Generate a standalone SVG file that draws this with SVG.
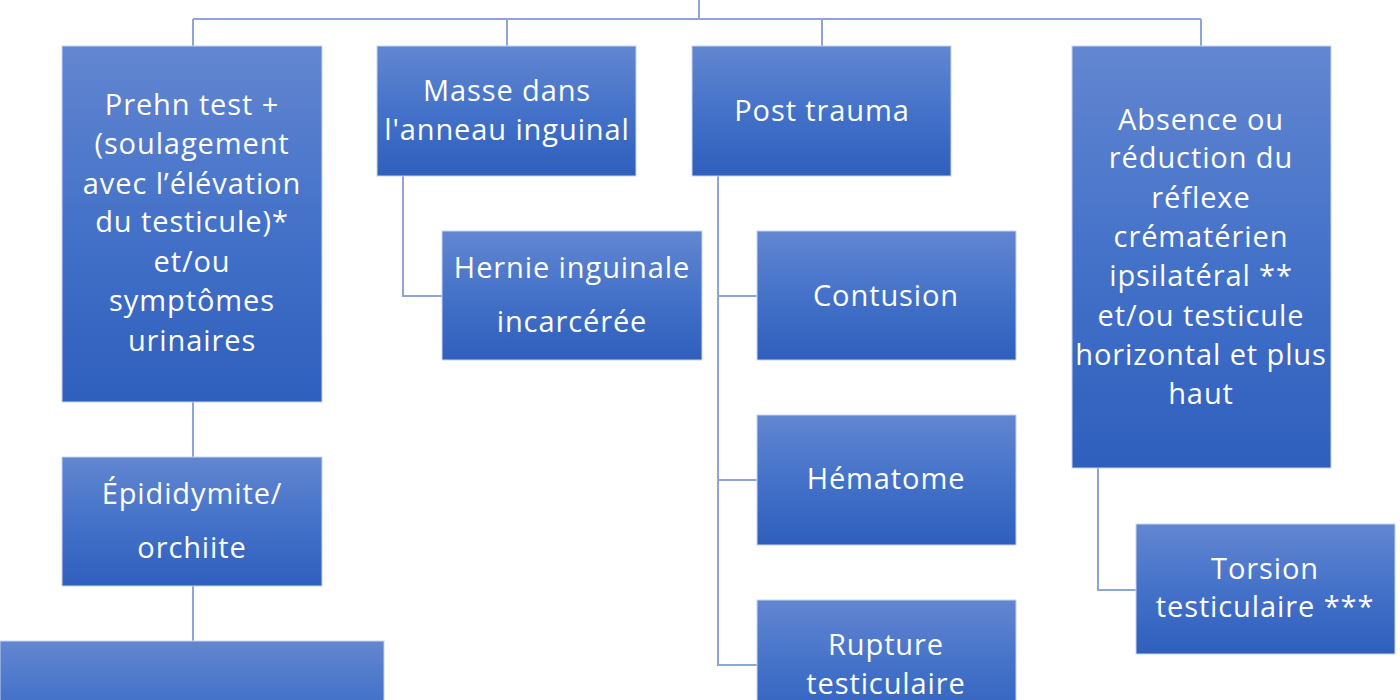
<svg xmlns="http://www.w3.org/2000/svg" width="1400" height="700" viewBox="0 0 1400 700">
<defs>
<linearGradient id="g" x1="0" y1="0" x2="0" y2="1">
<stop offset="0" stop-color="#6386d0"/>
<stop offset="0.5" stop-color="#4472c9"/>
<stop offset="1" stop-color="#2f5fbd"/>
</linearGradient>
<style>
.box{fill:url(#g);stroke:#c8d3ee;stroke-width:1}
.t{font-family:"Open Sans",Lato,sans-serif;font-size:29px;letter-spacing:0.9px;fill:#ffffff;text-anchor:middle}
.c{fill:none;stroke:#8ea5d9;stroke-width:2}
</style>
</defs>
<rect width="1400" height="700" fill="#ffffff"/>
<g id="connectors">
<path class="c" d="M699 0V19M193 19H1201M193 19V46M507 19V46M822 19V46M1201 19V46"/>
<path class="c" d="M403 176V296H442"/>
<path class="c" d="M718 176V665H757M718 296H757M718 480H757"/>
<path class="c" d="M1098 468V590H1136"/>
<path class="c" d="M193 402V457M193 586V641"/>
</g>
<g id="prehn">
<rect class="box" x="62" y="46" width="260" height="356"/>
<text class="t"><tspan x="192" y="115">Prehn test +</tspan><tspan x="192" y="154">(soulagement</tspan><tspan x="192" y="194">avec l’élévation</tspan><tspan x="192" y="232">du testicule)*</tspan><tspan x="192" y="272">et/ou</tspan><tspan x="192" y="311">symptômes</tspan><tspan x="192" y="351">urinaires</tspan></text>
</g>
<g id="masse">
<rect class="box" x="377" y="46" width="259" height="130"/>
<text class="t"><tspan x="507" y="101">Masse dans</tspan><tspan x="507" y="140">l'anneau inguinal</tspan></text>
</g>
<g id="post">
<rect class="box" x="692" y="46" width="259" height="130"/>
<text class="t" x="822" y="121">Post trauma</text>
</g>
<g id="absence">
<rect class="box" x="1072" y="46" width="259" height="422"/>
<text class="t"><tspan x="1201" y="130">Absence ou</tspan><tspan x="1201" y="168">réduction du</tspan><tspan x="1201" y="208">réflexe</tspan><tspan x="1201" y="247">crématérien</tspan><tspan x="1201" y="286">ipsilatéral **</tspan><tspan x="1201" y="326">et/ou testicule</tspan><tspan x="1201" y="365">horizontal et plus</tspan><tspan x="1201" y="404">haut</tspan></text>
</g>
<g id="hernie">
<rect class="box" x="442" y="231" width="260" height="129"/>
<text class="t"><tspan x="572" y="278">Hernie inguinale</tspan><tspan x="572" y="332">incarcérée</tspan></text>
</g>
<g id="contusion">
<rect class="box" x="757" y="231" width="259" height="129"/>
<text class="t" x="886" y="306">Contusion</text>
</g>
<g id="hematome">
<rect class="box" x="757" y="415" width="259" height="130"/>
<text class="t" x="886" y="489">Hématome</text>
</g>
<g id="rupture">
<rect class="box" x="757" y="600" width="259" height="130"/>
<text class="t"><tspan x="886" y="655">Rupture</tspan><tspan x="886" y="694">testiculaire</tspan></text>
</g>
<g id="torsion">
<rect class="box" x="1136" y="524" width="259" height="130"/>
<text class="t"><tspan x="1265" y="579">Torsion</tspan><tspan x="1265" y="617">testiculaire ***</tspan></text>
</g>
<g id="epididymite">
<rect class="box" x="62" y="457" width="260" height="129"/>
<text class="t"><tspan x="192" y="504">Épididymite/</tspan><tspan x="192" y="558">orchiite</tspan></text>
</g>
<g id="bottom">
<rect class="box" x="0" y="641" width="384" height="120"/>
</g>
</svg>
